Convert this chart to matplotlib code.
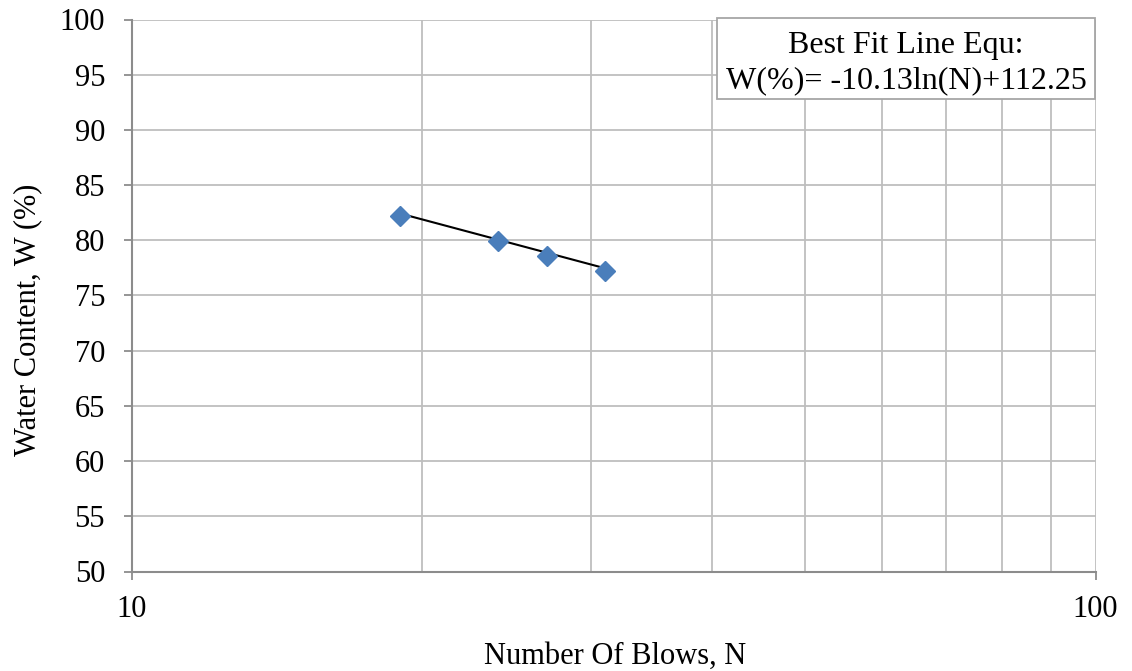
import numpy as np
import matplotlib
matplotlib.use("Agg")
import matplotlib.pyplot as plt
from matplotlib.patches import Rectangle
from matplotlib.ticker import FixedLocator, NullFormatter

plt.rcParams["font.family"] = ["Liberation Serif", "DejaVu Serif"]

# Liquid limit test readings
blows = [19, 24, 27, 31]
water_content = [82.2, 79.9, 78.6, 77.2]

# Logarithmic best-fit coefficients: W = a*ln(N) + b
fit_a = -10.13
fit_b = 112.25
fit_label = ["Best Fit Line Equ:", "W(%)= -10.13ln(N)+112.25"]

y_ticks = list(range(50, 101, 5))
x_major = [10, 100]
x_minor = [20, 30, 40, 50, 60, 70, 80, 90]

W, H, DPI = 1132, 671, 100
fig = plt.figure(figsize=(W / DPI, H / DPI), dpi=DPI)
left, right, top, bottom = 131.5, 1095.5, 19.5, 571.5
ax = fig.add_axes([left / W, 1 - bottom / H, (right - left) / W, (bottom - top) / H])

grid_c = "#BEBEBE"
axis_c = "#8C8C8C"
fs = 22

ax.set_xscale("log")
ax.set_xlim(10, 100)
ax.set_ylim(50, 100)

ax.xaxis.set_major_locator(FixedLocator(x_major))
ax.xaxis.set_minor_locator(FixedLocator(x_minor))
ax.xaxis.set_minor_formatter(NullFormatter())
ax.set_xticklabels([str(v) for v in x_major])
ax.set_yticks(y_ticks)
ax.set_yticklabels([str(v) for v in y_ticks])

ax.grid(True, which="both", axis="x", color=grid_c, linewidth=1.3)
ax.grid(True, which="major", axis="y", color=grid_c, linewidth=1.3)
ax.set_axisbelow(True)

for side in ("top", "right"):
    ax.spines[side].set_visible(False)
for side in ("left", "bottom"):
    ax.spines[side].set_color(axis_c)
    ax.spines[side].set_linewidth(1.5)

ax.tick_params(axis="both", which="major", direction="out", length=6,
               width=1.3, color=axis_c, labelsize=fs)
ax.tick_params(axis="y", pad=13)
ax.tick_params(axis="x", pad=11)
ax.tick_params(axis="x", which="minor", length=0)

# Trend line over the tested range
n_line = np.linspace(min(blows), max(blows), 50)
ax.plot(n_line, fit_a * np.log(n_line) + fit_b, color="black", linewidth=1.5, zorder=3)

ax.plot(blows, water_content, linestyle="none", marker="D", markersize=10,
        markerfacecolor="#4A7EBB", markeredgecolor="#4A7EBB", zorder=4)

# Axis titles
fig.text(615 / W, 1 - 664 / H, "Number Of Blows, N", ha="center", va="baseline", fontsize=fs)
fig.text(28 / W, 1 - 320 / H, "Water Content, W (%)", ha="center", va="center",
         rotation=90, fontsize=fs)

# Equation box
bx0, by0, bx1, by1 = 717, 18, 1095, 99
fig.patches.append(Rectangle((bx0 / W, 1 - by1 / H), (bx1 - bx0) / W, (by1 - by0) / H,
                             transform=fig.transFigure, facecolor="white",
                             edgecolor="#A6A6A6", linewidth=1.3, zorder=5))
fig.text(906 / W, 1 - 53 / H, fit_label[0], ha="center", va="baseline", fontsize=23, zorder=6)
fig.text(906 / W, 1 - 88.5 / H, fit_label[1], ha="center", va="baseline", fontsize=23, zorder=6)

fig.savefig("out.png", dpi=DPI)
